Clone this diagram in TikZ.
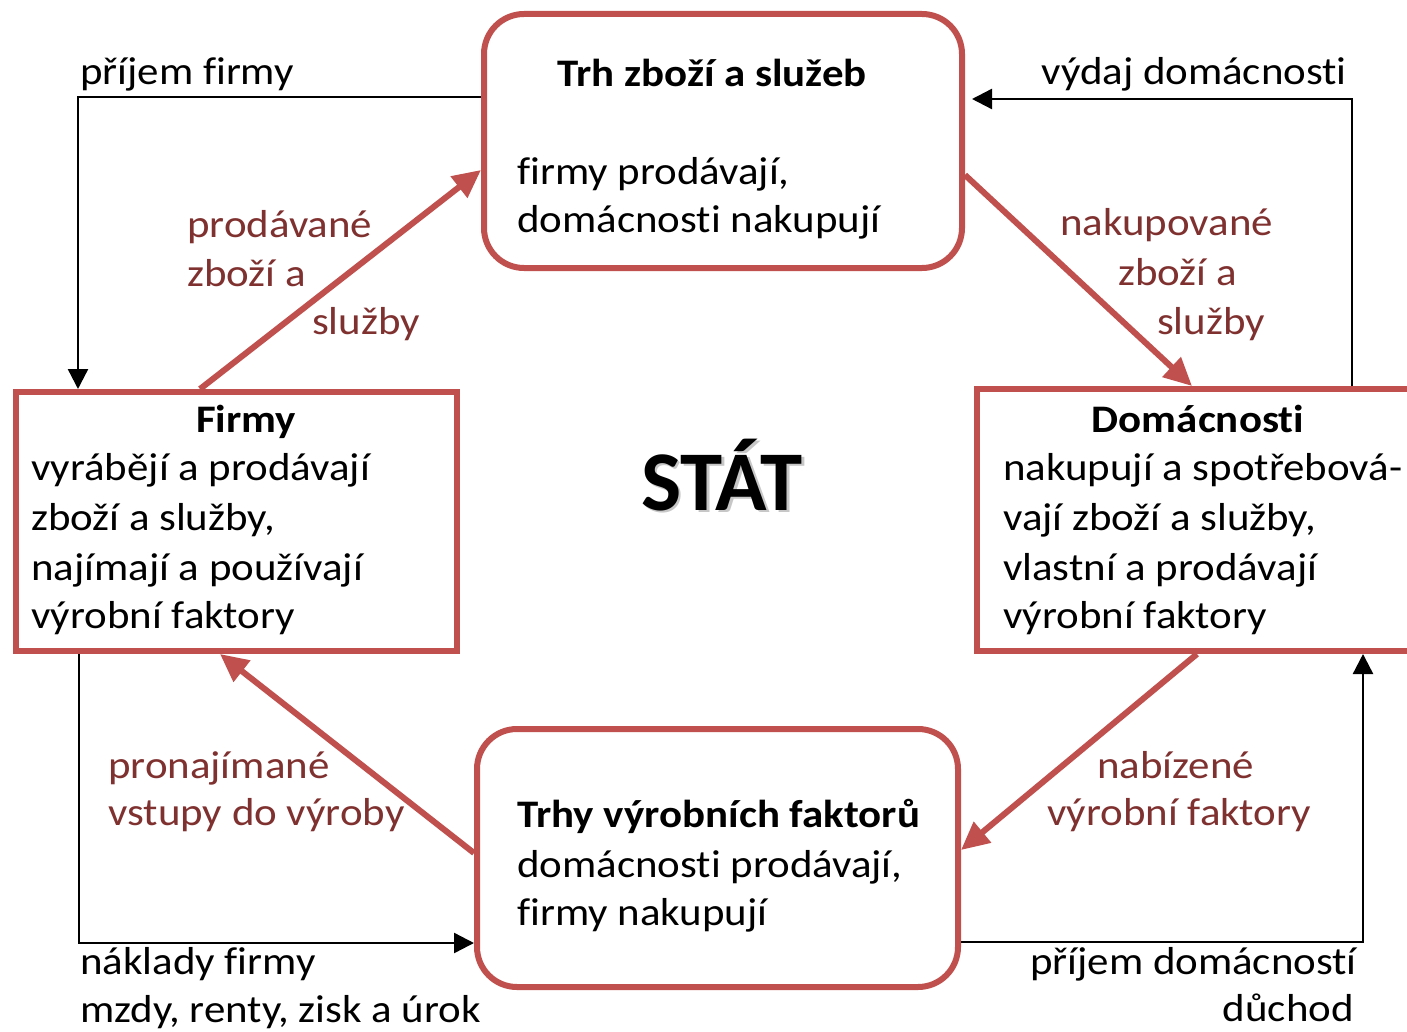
\documentclass[tikz,border=0pt]{standalone}
\usepackage{fontspec}
\setmainfont{Carlito}[FakeStretch=1.1, Ligatures=NoCommon]
\newfontfamily\statfont{Carlito}
\usetikzlibrary{arrows.meta,calc}
\definecolor{boxred}{HTML}{C0504D}
\definecolor{lblred}{HTML}{7F3130}
\begin{document}
\begin{tikzpicture}[x=1pt,y=-1pt,
  redbox/.style={draw=boxred, line width=6pt, inner sep=0pt},
  redarrow/.style={draw=boxred, line width=6pt, -{Triangle[length=28pt,width=26pt]}},
  blk/.style={draw=black, line width=2.4pt, -{Triangle[length=20pt,width=20pt]}},
  txt/.style={inner sep=0pt, font=\fontsize{39}{48}\selectfont},
  hd/.style={inner sep=0pt, font=\bfseries\fontsize{39}{48}\selectfont},
  lbl/.style={inner sep=0pt, font=\fontsize{39}{48}\selectfont, text=lblred}]
\useasboundingbox (0,0) rectangle (1407,1032);
\clip (0,0) rectangle (1407,1032);
\fill[white] (0,0) rectangle (1407,1032);

% boxes
\node[redbox, rounded corners=40pt, minimum width=478pt, minimum height=254pt] (trh) at (723,141) {};
\node[redbox, minimum width=441pt, minimum height=259pt] (firmy) at (236.5,521.5) {};
\node[redbox, minimum width=453pt, minimum height=262pt] (dom) at (1203.5,520) {};
\node[redbox, rounded corners=40pt, minimum width=481pt, minimum height=258pt] (trhy) at (717.5,858) {};

% box texts
\node[hd, anchor=base] (trhT) at (712,87) {Trh zboží a služeb};
\node[txt, anchor=base west] (trh1) at (517,185) {firmy prodávají,};
\node[txt, anchor=base west] (trh2) at (517,233) {domácnosti nakupují};

\node[hd, anchor=base] (firmyT) at (246,432) {Firmy};
\node[txt, anchor=base west] (firmy1) at (31,480) {vyrábějí a prodávají};
\node[txt, anchor=base west] (firmy2) at (31,530) {zboží a služby,};
\node[txt, anchor=base west] (firmy3) at (31,580) {najímají a používají};
\node[txt, anchor=base west] (firmy4) at (31,628) {výrobní faktory};

\node[hd, anchor=base] (domT) at (1198,432) {Domácnosti};
\node[txt, anchor=base west] (dom1) at (1003,480) {nakupují a spotřebová-};
\node[txt, anchor=base west] (dom2) at (1003,530) {vají zboží a služby,};
\node[txt, anchor=base west] (dom3) at (1003,580) {vlastní a prodávají};
\node[txt, anchor=base west] (dom4) at (1003,628) {výrobní faktory};

\node[hd, anchor=base west] (trhyT) at (517,827) {Trhy výrobních faktorů};
\node[txt, anchor=base west] (trhy1) at (517,877) {domácnosti prodávají,};
\node[txt, anchor=base west] (trhy2) at (517,925) {firmy nakupují};

% STAT with soft shadow
\node[inner sep=0pt, anchor=base, font=\statfont\bfseries\fontsize{85}{100}\selectfont, text=black!22] (statS) at (724.5,512.5) {STÁT};
\node[inner sep=0pt, anchor=base, font=\statfont\bfseries\fontsize{85}{100}\selectfont] (stat) at (722,510) {STÁT};

% red flows
\draw[redarrow] (firmy.north -| 200,0) -- (trh.west |- 0,170);
\draw[redarrow] (trh.east |- 0,175) -- (dom.north -| 1192,0);
\draw[redarrow] (dom.south -| 1197,0) -- (trhy.east |- 0,850);
\draw[redarrow] (trhy.west |- 0,853) -- (firmy.south -| 220,0);

% black money flows
\coordinate (c1) at (78,97);
\coordinate (c2) at (1352,99);
\coordinate (c3) at (79,943);
\coordinate (c4) at (1363,942);
\coordinate (t2) at (972,99);
\draw[blk] (trh.west |- c1) -- (c1) -- (firmy.north -| c1);
\draw[blk] (dom.north -| c2) -- (c2) -- (t2);
\draw[blk] (firmy.south -| c3) -- (c3) -- (trhy.west |- c3);
\draw[blk] (trhy.east |- c4) -- (c4) -- (dom.south -| c4);

% red labels
\node[lbl, anchor=base west] (l1a) at (187,238) {prodávané};
\node[lbl, anchor=base west] (l1b) at (187,286) {zboží a};
\node[lbl, anchor=base west] (l1c) at (312,334) {služby};
\node[lbl, anchor=base west] (l2a) at (1060,236) {nakupované};
\node[lbl, anchor=base west] (l2b) at (1118,285) {zboží a};
\node[lbl, anchor=base west] (l2c) at (1157,334) {služby};
\node[lbl, anchor=base west] (l3a) at (1097,778) {nabízené};
\node[lbl, anchor=base west] (l3b) at (1047,825) {výrobní faktory};
\node[lbl, anchor=base west] (l4a) at (108,778) {pronajímané};
\node[lbl, anchor=base west] (l4b) at (108,825) {vstupy do výroby};

% black labels
\node[txt, anchor=base west] (b1) at (80,85) {příjem firmy};
\node[txt, anchor=base east] (b2) at (1347,85) {výdaj domácnosti};
\node[txt, anchor=base west] (b3a) at (80,974) {náklady firmy};
\node[txt, anchor=base west] (b3b) at (80,1022) {mzdy, renty, zisk a úrok};
\node[txt, anchor=base east] (b4a) at (1357,974) {příjem domácností};
\node[txt, anchor=base east] (b4b) at (1354,1021) {důchod};
\end{tikzpicture}
\end{document}
